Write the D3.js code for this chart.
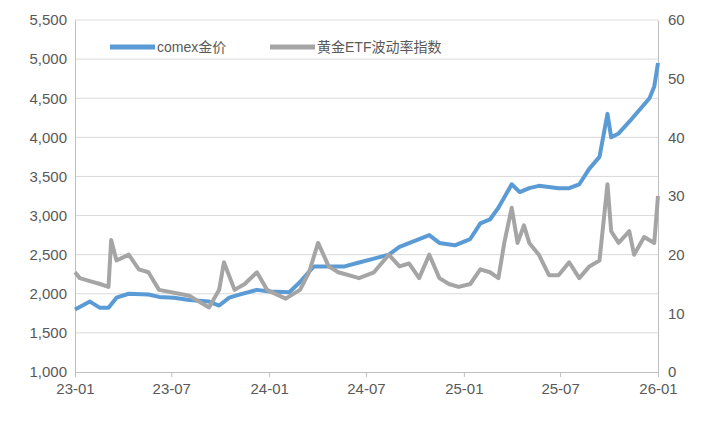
<!DOCTYPE html>
<html><head><meta charset="utf-8">
<script src="https://cdn.jsdelivr.net/npm/d3@7"></script>
<style>body{margin:0;background:#fff}text{font-family:"Liberation Sans","Noto Sans CJK SC",sans-serif}</style>
</head><body><svg id="c" width="712" height="427"></svg>
<script>
// comex gold
const goldDates = ["2023-01-01","2023-01-29","2023-02-17","2023-03-05","2023-03-20","2023-04-12","2023-05-19","2023-06-08","2023-07-06","2023-08-04","2023-09-10","2023-09-29","2023-10-18","2023-11-06","2023-12-09","2024-01-02","2024-02-08","2024-02-28","2024-03-25","2024-04-22","2024-05-22","2024-06-18","2024-07-16","2024-08-13","2024-09-02","2024-10-09","2024-10-28","2024-11-16","2024-12-15","2025-01-13","2025-02-01","2025-02-19","2025-03-07","2025-04-01","2025-04-16","2025-05-04","2025-05-22","2025-06-28","2025-07-18","2025-08-06","2025-08-25","2025-09-13","2025-09-28","2025-10-05","2025-10-19","2025-11-08","2025-11-27","2025-12-16","2025-12-25","2026-01-01"];
const goldVals = [1800,1900,1820,1820,1950,2000,1990,1960,1950,1920,1900,1850,1950,1990,2050,2030,2020,2150,2350,2350,2350,2400,2450,2500,2600,2700,2750,2650,2620,2700,2900,2950,3100,3400,3300,3350,3380,3350,3350,3400,3600,3750,4300,4000,4050,4200,4350,4500,4650,4950];
// gold ETF volatility index
const volDates = ["2023-01-01","2023-01-10","2023-01-29","2023-02-17","2023-03-05","2023-03-10","2023-03-20","2023-04-12","2023-05-01","2023-05-19","2023-06-08","2023-07-06","2023-08-04","2023-08-22","2023-09-10","2023-09-29","2023-10-08","2023-10-28","2023-11-16","2023-12-09","2023-12-28","2024-02-01","2024-02-28","2024-03-16","2024-04-02","2024-04-22","2024-05-10","2024-06-18","2024-07-16","2024-08-13","2024-09-02","2024-09-20","2024-10-09","2024-10-28","2024-11-16","2024-12-04","2024-12-22","2025-01-13","2025-02-01","2025-02-19","2025-03-07","2025-03-18","2025-04-01","2025-04-12","2025-04-24","2025-05-04","2025-05-22","2025-06-10","2025-06-28","2025-07-18","2025-08-06","2025-08-25","2025-09-13","2025-09-28","2025-10-05","2025-10-19","2025-11-08","2025-11-17","2025-12-06","2025-12-25","2026-01-01"];
const volVals = [17,16,15.5,15,14.5,22.5,19,20,17.5,17,14,13.5,13,12,11,14,18.7,14,15,17,14,12.5,14,17,22,18,17,16,17,20,18,18.5,16,20,16,15,14.5,15,17.5,17,16,22,28,22,25,22,20,16.5,16.5,18.7,16,18,19,32,24,22,24,20,23,22,30];
const leftTicks = [1000,1500,2000,2500,3000,3500,4000,4500,5000,5500];
const rightTicks = [0,10,20,30,40,50,60];
const xTicks = ["2023-01-01","2023-07-01","2024-01-01","2024-07-01","2025-01-01","2025-07-01","2026-01-01"];

const svg = d3.select("#c");
const L = 75, R = 658, T = 20, B = 372;
const p = d3.timeParse("%Y-%m-%d");
const x = d3.scaleTime().domain([p("2023-01-01"), p("2026-01-01")]).range([L, R]);
const yL = d3.scaleLinear().domain([1000, 5500]).range([B, T]);
const yR = d3.scaleLinear().domain([0, 60]).range([B, T]);

// grid
svg.append("g").selectAll("line").data(leftTicks.slice(1)).enter().append("line")
  .attr("x1", L).attr("x2", R).attr("y1", d => yL(d)).attr("y2", d => yL(d))
  .attr("stroke", "#d9d9d9");

const axL = svg.append("g").attr("transform", `translate(${L},0)`)
  .call(d3.axisLeft(yL).tickValues(leftTicks).tickFormat(d3.format(",")).tickSize(0).tickPadding(8));
const axR = svg.append("g").attr("transform", `translate(${R},0)`)
  .call(d3.axisRight(yR).tickValues(rightTicks).tickSize(0).tickPadding(10));
const axB = svg.append("g").attr("transform", `translate(0,${B})`)
  .call(d3.axisBottom(x).tickValues(xTicks.map(p)).tickFormat(d3.timeFormat("%y-%m")).tickSize(5).tickPadding(6));
[axL, axR, axB].forEach(a => {
  a.selectAll("text").attr("fill", "#595959").style("font-size", "15px");
  a.select(".domain").attr("stroke", "#bfbfbf");
  a.selectAll(".tick line").attr("stroke", "#bfbfbf");
});

const gold = goldDates.map((d, i) => [p(d), goldVals[i]]);
const vol = volDates.map((d, i) => [p(d), volVals[i]]);
svg.append("path").datum(gold).attr("fill", "none").attr("stroke", "#5b9bd5").attr("stroke-width", 4)
  .attr("stroke-linejoin", "round")
  .attr("d", d3.line().x(d => x(d[0])).y(d => yL(d[1])));
svg.append("path").datum(vol).attr("fill", "none").attr("stroke", "#a5a5a5").attr("stroke-width", 4)
  .attr("stroke-linejoin", "round")
  .attr("d", d3.line().x(d => x(d[0])).y(d => yR(d[1])));

// legend
const leg = [["comex金价", "#5b9bd5", 110], ["黄金ETF波动率指数", "#a5a5a5", 270]];
leg.forEach(([t, c, lx]) => {
  svg.append("line").attr("x1", lx).attr("x2", lx + 45).attr("y1", 47).attr("y2", 47)
    .attr("stroke", c).attr("stroke-width", 5);
  svg.append("text").attr("x", lx + 47).attr("y", 52).attr("fill", "#595959")
    .style("font-size", "14px").text(t);
});
</script></body></html>
